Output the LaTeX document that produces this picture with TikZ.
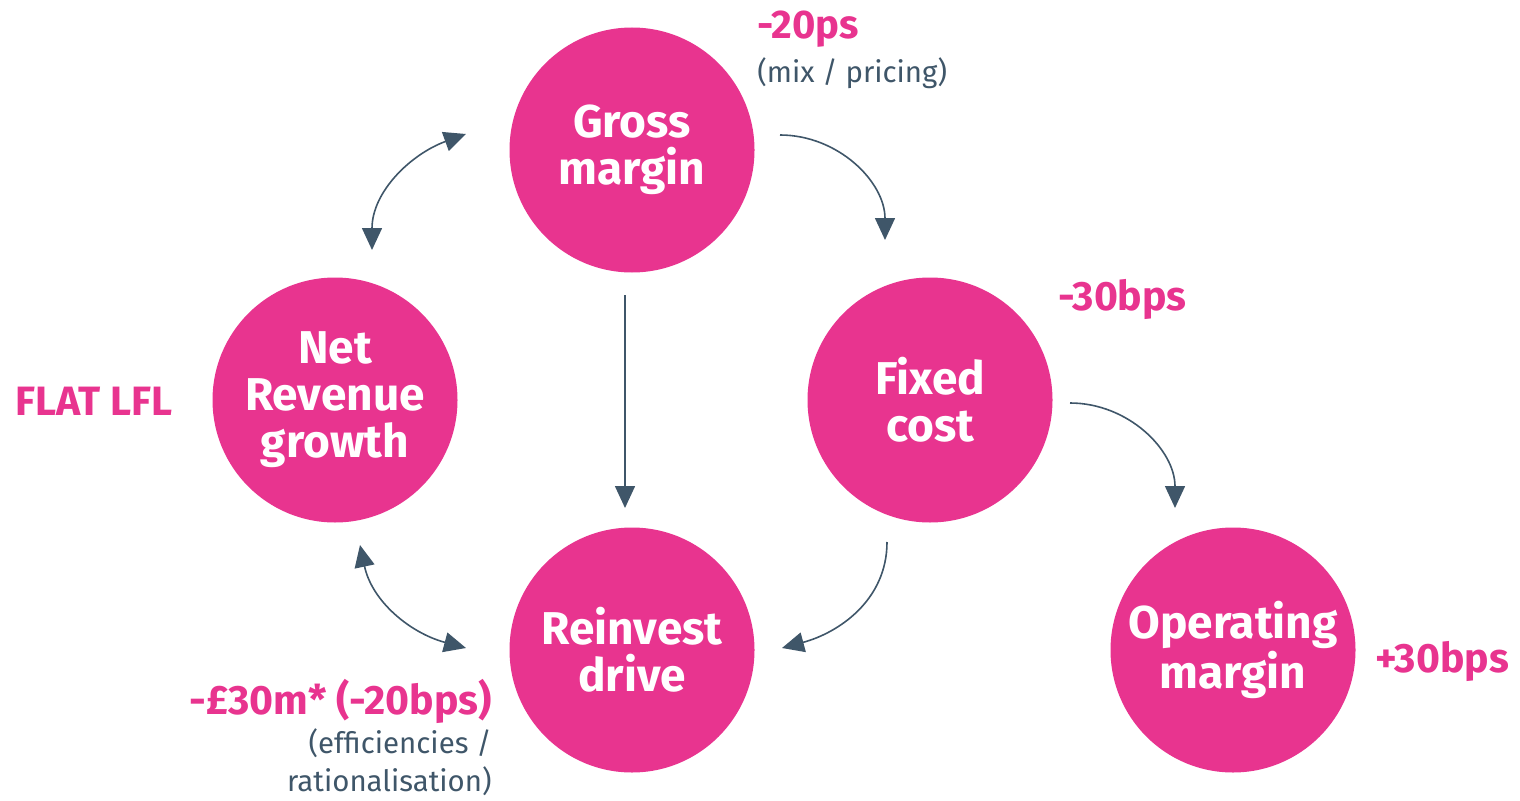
\documentclass[tikz,border=0pt]{standalone}
\usepackage{fontspec}
\setmainfont{Fira Sans}
\usetikzlibrary{arrows.meta}
\definecolor{brandpink}{HTML}{E8348F}
\definecolor{slate}{HTML}{3F5669}
\tikzset{
  bubble/.style={circle,fill=brandpink,minimum size=122.5pt,inner sep=0pt,
    text=white,align=center,font=\fontsize{23}{23.5}\selectfont\bfseries},
  figure/.style={text=brandpink,font=\fontsize{20.5}{22}\selectfont\bfseries,inner sep=0pt},
  note/.style={text=slate,font=\fontsize{14.7}{19}\selectfont,inner sep=0pt},
  flow/.style={draw=slate,line width=0.8pt,-{Triangle[length=11pt,width=10pt]}},
  twoway/.style={flow,{Triangle[length=11pt,width=10pt]}-{Triangle[length=11pt,width=10pt]}}
}
\begin{document}
\begin{tikzpicture}[x=0.5pt,y=0.5pt]
      \useasboundingbox (0,0) rectangle (1520,800);
      \draw
        (632,650) node[bubble] (gross){Gross\\margin}
        (335,400) node[bubble] (netrev){Net\\Revenue\\growth}
        (930,400) node[bubble] (fixed){Fixed\\cost}
        (632,150) node[bubble] (reinvest){Reinvest\\drive}
        (1233,150) node[bubble] (operating){Operating\\margin};
      % figures and notes
      \node[figure,anchor=base west,font=\fontsize{20}{22}\selectfont\bfseries] (grossfig) at (757,762) {-20ps};
      \node[note,anchor=base west] (grossnote) at (757,718) {(mix / pricing)};
      \node[figure,anchor=base west] (fixedfig) at (1058,490) {-30bps};
      \node[figure,anchor=base west] (netfig) at (15,385) {FLAT LFL};
      \node[figure,anchor=base west] (opfig) at (1375,128) {+30bps};
      \node[figure,anchor=base east] (reinvfig) at (492,86) {-£30m* (-20bps)};
      \node[note,anchor=base east,align=right] (reinvnote) at (492,9)
        {(efficiencies /\\rationalisation)};
      % arrow ends
      \coordinate (gn1) at (372,550);
      \coordinate (gn2) at (466,666);
      \coordinate (gf1) at (780,665);
      \coordinate (gf2) at (885,560);
      \coordinate (gr1) at (625,505);
      \coordinate (gr2) at (625,292);
      \coordinate (fr1) at (887,258);
      \coordinate (fr2) at (782,152);
      \coordinate (fo1) at (1070,397);
      \coordinate (fo2) at (1175,292);
      \coordinate (nr1) at (360,255);
      \coordinate (nr2) at (466,152);
      \begin{scope}
        \draw[twoway] (gn1) to[out=90,in=200] (gn2);
        \draw[flow] (gf1) to[out=0,in=90] (gf2);
        \draw[flow] (gr1) -- (gr2);
        \draw[flow] (fr1) to[out=-90,in=15] (fr2);
        \draw[flow] (fo1) to[out=0,in=90] (fo2);
        \draw[twoway] (nr1) to[out=-78,in=165] (nr2);
      \end{scope}
    \end{tikzpicture}
\end{document}
